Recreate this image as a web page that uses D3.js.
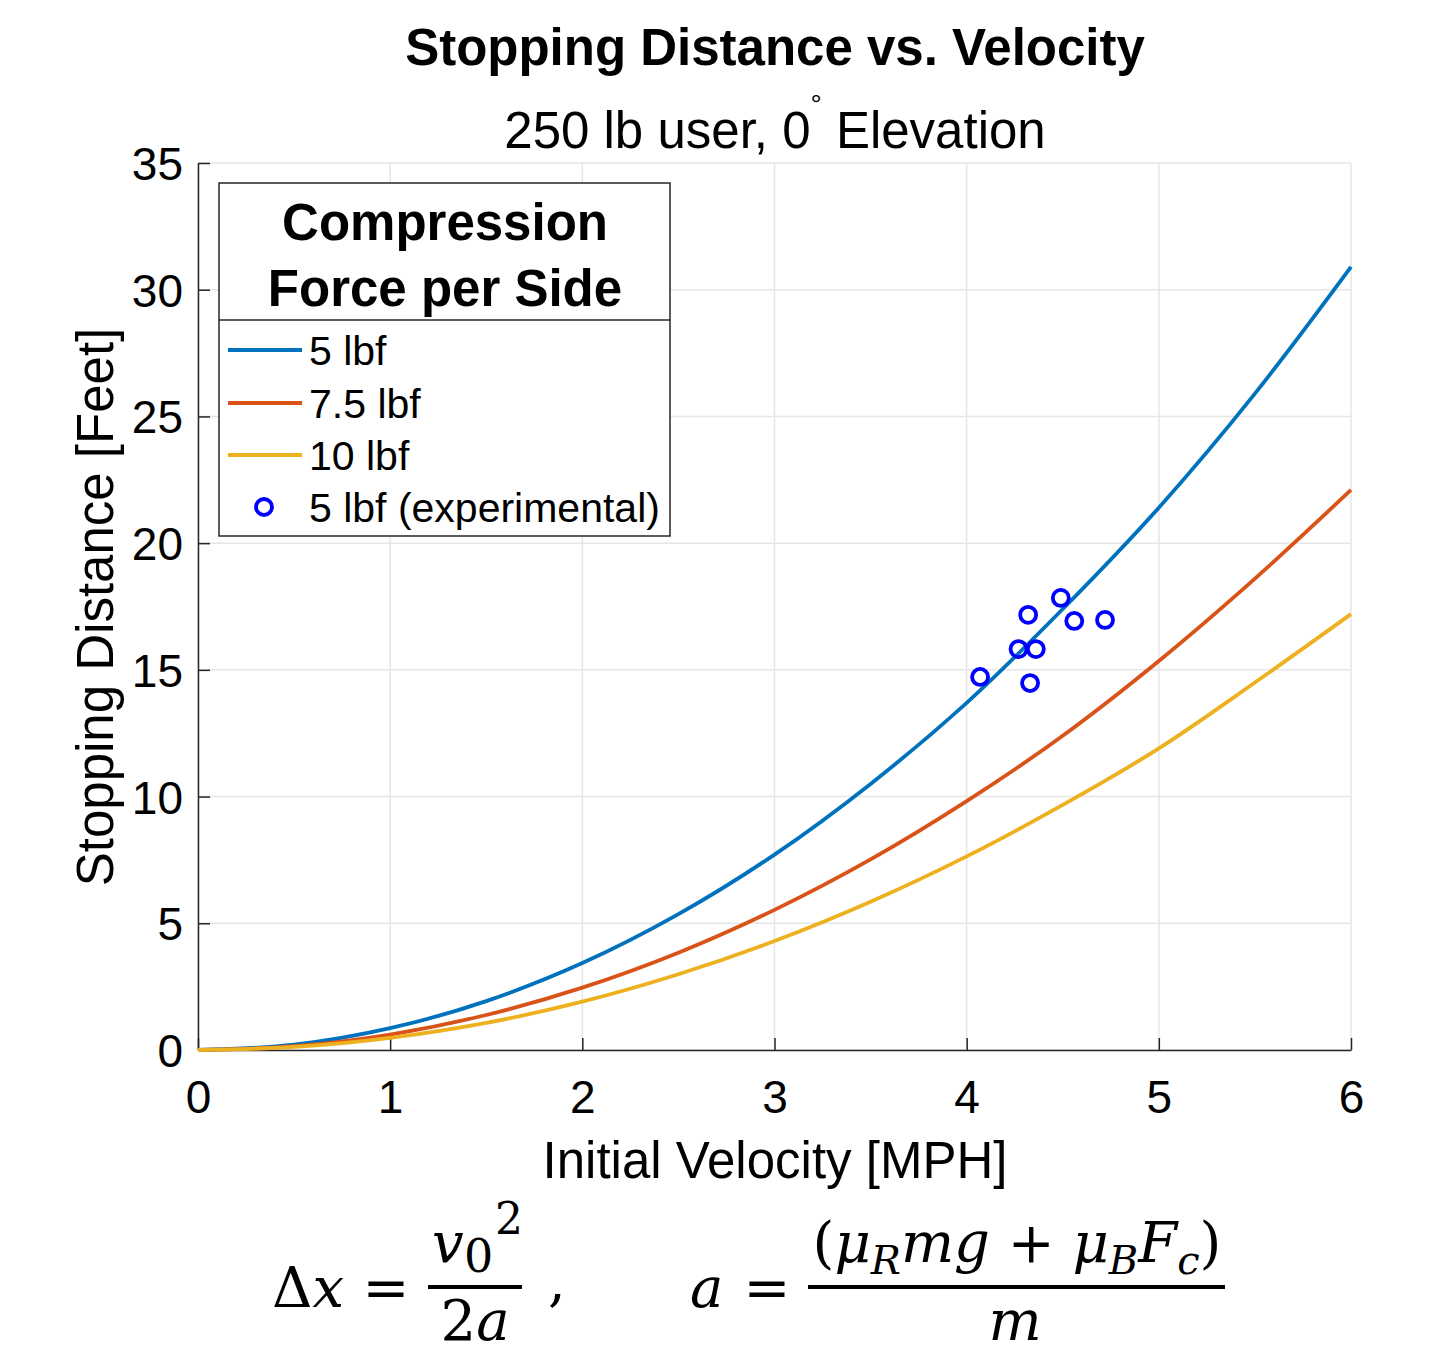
<!DOCTYPE html>
<html>
<head>
<meta charset="utf-8">
<script src="https://cdn.jsdelivr.net/npm/d3@7"></script>
<style>
  body { margin: 0; background: #fff; }
  text { font-family: "Liberation Sans", Arial, sans-serif; fill: #000; }
  .math { font-family: "DejaVu Serif", "Liberation Serif", serif; font-style: italic; }
  .math .up, .math.up { font-style: normal; }
</style>
</head>
<body>
<div id="chart"></div>
<script>
// velocities (mph) at which the curves were read
const velocities = [0, 0.5, 1, 1.5, 2, 2.5, 3, 3.5, 4, 4.5, 5, 5.5, 6]
// stopping distance (ft)
const dist5 = [0, 0.21, 0.86, 1.93, 3.43, 5.36, 7.71, 10.5, 13.7, 17.4, 21.4, 25.9, 30.9]
const dist75 = [0, 0.15, 0.61, 1.38, 2.46, 3.84, 5.53, 7.52, 9.82, 12.4, 15.35, 18.6, 22.1]
const dist10 = [0, 0.12, 0.48, 1.07, 1.91, 2.99, 4.3, 5.85, 7.64, 9.67, 11.9, 14.5, 17.2]
const seriesNames = ["5 lbf", "7.5 lbf", "10 lbf"]
const seriesColors = ["#0072BD", "#D95319", "#EDB120"]
// experimental runs, 5 lbf
const expVelocity = [4.07, 4.27, 4.36, 4.32, 4.33, 4.49, 4.56, 4.72]
const expDistance = [14.72, 15.82, 15.82, 17.17, 14.48, 17.84, 16.93, 16.97]
const xTicks = [0, 1, 2, 3, 4, 5, 6]
const yTicks = [0, 5, 10, 15, 20, 25, 30, 35]

const W = 1452, H = 1355
const MARGIN = { LEFT: 198, RIGHT: 101, TOP: 163, BOTTOM: 305 }
const WIDTH = W - MARGIN.LEFT - MARGIN.RIGHT
const HEIGHT = H - MARGIN.TOP - MARGIN.BOTTOM

const svg = d3.select("#chart").append("svg")
  .attr("width", W)
  .attr("height", H)

const g = svg.append("g")
  .attr("transform", `translate(${MARGIN.LEFT}, ${MARGIN.TOP})`)

const x = d3.scaleLinear().domain([0, 6]).range([0, WIDTH])
const y = d3.scaleLinear().domain([0, 35]).range([HEIGHT, 0])

// grid
g.append("g").selectAll("line").data(xTicks).join("line")
  .attr("x1", d => x(d)).attr("x2", d => x(d))
  .attr("y1", 0).attr("y2", HEIGHT)
  .attr("stroke", "#e6e6e6").attr("stroke-width", 1.5)
g.append("g").selectAll("line").data(yTicks).join("line")
  .attr("y1", d => y(d)).attr("y2", d => y(d))
  .attr("x1", 0).attr("x2", WIDTH)
  .attr("stroke", "#e6e6e6").attr("stroke-width", 1.5)

// axes (ticks point inward like MATLAB)
const xAxis = g.append("g")
  .attr("transform", `translate(0, ${HEIGHT})`)
  .call(d3.axisBottom(x).tickValues(xTicks).tickFormat(d3.format("d"))
    .tickSizeInner(-12).tickSizeOuter(0).tickPadding(30))
const yAxis = g.append("g")
  .call(d3.axisLeft(y).tickValues(yTicks).tickFormat(d3.format("d"))
    .tickSizeInner(-12).tickSizeOuter(0).tickPadding(15))

for (const ax of [xAxis, yAxis]) {
  ax.select(".domain").attr("stroke", "#262626").attr("stroke-width", 1.5)
  ax.selectAll(".tick line").attr("stroke", "#262626").attr("stroke-width", 1.5)
  ax.selectAll(".tick text")
    .attr("font-family", "Liberation Sans, Arial, sans-serif")
    .attr("font-size", 46)
    .attr("fill", "#262626")
}
yAxis.selectAll(".tick text").attr("dy", "0.36em")

// curves
const line = d3.line()
  .x((d, i) => x(velocities[i]))
  .y(d => y(d))
  .curve(d3.curveCatmullRom)

const series = [dist5, dist75, dist10]
g.append("g").selectAll("path").data(series).join("path")
  .attr("d", d => line(d))
  .attr("fill", "none")
  .attr("stroke", (d, i) => seriesColors[i])
  .attr("stroke-width", 3.8)

// experimental markers
g.append("g").selectAll("circle").data(expVelocity).join("circle")
  .attr("cx", d => x(d))
  .attr("cy", (d, i) => y(expDistance[i]))
  .attr("r", 8)
  .attr("fill", "none")
  .attr("stroke", "#0000FF")
  .attr("stroke-width", 3.8)

// titles
svg.append("text")
  .attr("x", 775).attr("y", 65)
  .attr("text-anchor", "middle")
  .attr("font-size", 51).attr("font-weight", "bold")
  .text("Stopping Distance vs. Velocity")

const sub = svg.append("text")
  .attr("x", 775).attr("y", 148)
  .attr("text-anchor", "middle")
  .attr("font-size", 51)
sub.append("tspan").text("250 lb user, 0")
sub.append("tspan").attr("font-size", 28).attr("dy", -34).text("°")
sub.append("tspan").attr("dy", 34).text(" Elevation")

// axis labels
svg.append("text")
  .attr("x", 775).attr("y", 1178)
  .attr("text-anchor", "middle")
  .attr("font-size", 51)
  .attr("fill", "#262626")
  .text("Initial Velocity [MPH]")
svg.append("text")
  .attr("transform", "translate(113, 607) rotate(-90)")
  .attr("text-anchor", "middle")
  .attr("font-size", 51)
  .attr("fill", "#262626")
  .text("Stopping Distance [Feet]")

// legend
const legend = svg.append("g").attr("transform", "translate(219, 183)")
legend.append("rect")
  .attr("width", 451).attr("height", 353)
  .attr("fill", "#fff").attr("stroke", "#262626").attr("stroke-width", 1.5)
legend.append("line")
  .attr("x1", 0).attr("x2", 451).attr("y1", 137).attr("y2", 137)
  .attr("stroke", "#262626").attr("stroke-width", 1.5)
legend.selectAll("text.title").data(["Compression", "Force per Side"]).join("text")
  .attr("class", "title")
  .attr("x", 226).attr("y", (d, i) => 57 + i * 66)
  .attr("text-anchor", "middle")
  .attr("font-size", 51).attr("font-weight", "bold")
  .text(d => d)

const rowY = [167, 220, 272, 324]
legend.selectAll("line.entry").data(seriesNames).join("line")
  .attr("class", "entry")
  .attr("x1", 9).attr("x2", 83)
  .attr("y1", (d, i) => rowY[i]).attr("y2", (d, i) => rowY[i])
  .attr("stroke", (d, i) => seriesColors[i])
  .attr("stroke-width", 3.8)
legend.append("circle")
  .attr("cx", 45).attr("cy", rowY[3])
  .attr("r", 8).attr("fill", "none")
  .attr("stroke", "#0000FF").attr("stroke-width", 3.8)
legend.selectAll("text.entry").data(seriesNames.concat(["5 lbf (experimental)"])).join("text")
  .attr("class", "entry")
  .attr("x", 90).attr("y", (d, i) => rowY[i])
  .attr("dy", "0.36em")
  .attr("font-size", 41)
  .text(d => d)

// equations
const eq = svg.append("g")
const fs = 56
const mathText = (xp, yp, size, anchor, upright) => eq.append("text")
  .attr("class", upright ? "math up" : "math").attr("x", xp).attr("y", yp)
  .attr("font-size", size).attr("text-anchor", anchor || "start")

mathText(272, 1307, fs).html('<tspan class="up">Δ</tspan>x')
mathText(386, 1307, fs, "middle", true).text("=")
mathText(432, 1262, fs).text("v")
mathText(464, 1272, 46, "start", true).text("0")
mathText(495, 1234, 44, "start", true).text("2")
eq.append("line").attr("x1", 428).attr("x2", 522).attr("y1", 1287).attr("y2", 1287)
  .attr("stroke", "#000").attr("stroke-width", 4)
mathText(475, 1340, fs, "middle").html('<tspan class="up">2</tspan>a')
mathText(548, 1300, fs, "start", true).text(",")
mathText(690, 1307, fs).text("a")
mathText(767, 1307, fs, "middle", true).text("=")
mathText(1017, 1262, fs, "middle")
  .html('<tspan class="up">(</tspan>μ<tspan font-size="40" dy="12">R</tspan><tspan dy="-12">mg </tspan><tspan class="up">+</tspan> μ<tspan font-size="40" dy="12">B</tspan><tspan dy="-12">F</tspan><tspan font-size="40" dy="12">c</tspan><tspan class="up" dy="-12">)</tspan>')
eq.append("line").attr("x1", 808).attr("x2", 1225).attr("y1", 1287).attr("y2", 1287)
  .attr("stroke", "#000").attr("stroke-width", 4)
mathText(1015, 1340, fs, "middle").text("m")
</script>
</body>
</html>
